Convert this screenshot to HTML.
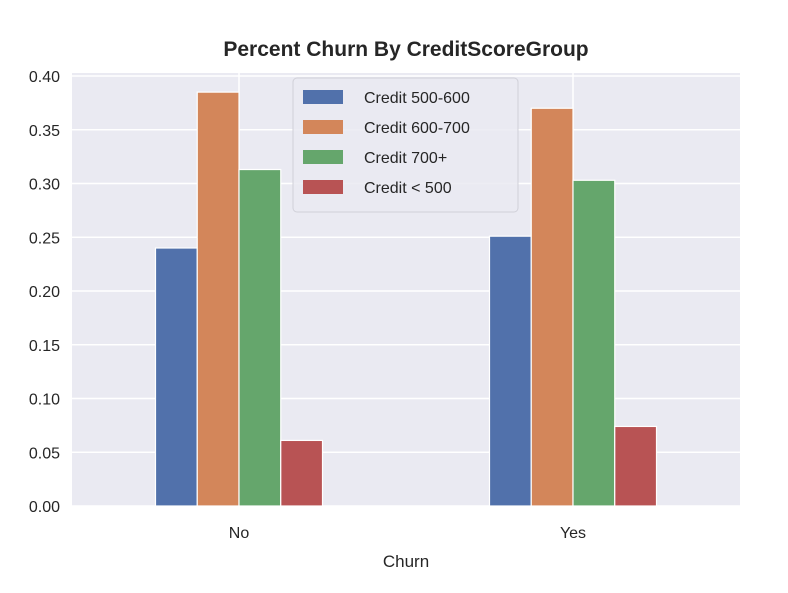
<!DOCTYPE html>
<html><head><meta charset="utf-8"><style>
body{margin:0;background:#fff;width:788px;height:588px;overflow:hidden;font-family:"Liberation Sans",sans-serif}
</style></head><body>
<svg width="788" height="588">
<text x="406" y="56" text-anchor="middle" font-size="21" font-weight="bold" fill="#262626">Percent Churn By CreditScoreGroup</text>
<rect x="72" y="73" width="668" height="433" fill="#eaeaf2"/>
<g id="grid"></g><g id="bars"></g><g id="ticks"></g>
<text x="406" y="567" text-anchor="middle" font-size="17" fill="#262626">Churn</text>
<g>
<rect x="293" y="78" width="225" height="134" rx="4" fill="#eaeaf2" stroke="#d0d0d8" fill-opacity="0.85"/>
<g id="legend"></g>
</g>
</svg>
<script>
const categories=["No","Yes"];
const seriesNames=["Credit 500-600","Credit 600-700","Credit 700+","Credit < 500"];
const s500_600=[0.240,0.251];
const s600_700=[0.385,0.370];
const s700p=[0.313,0.303];
const sLt500=[0.061,0.074];
const yTicks=["0.00","0.05","0.10","0.15","0.20","0.25","0.30","0.35","0.40"];
const series=[s500_600,s600_700,s700p,sLt500];
const colors=["#5171ab","#d3865a","#65a66c","#b85354"];
const NS="http://www.w3.org/2000/svg";
const X0=72,W=668,Y0=506,YT=76;
const y=v=>Y0-(v/0.4)*(Y0-YT);
const x=c=>X0+(c+0.5)*W/2;
function mk(t,a,p){const e=document.createElementNS(NS,t);for(const k in a)e.setAttribute(k,a[k]);document.getElementById(p).appendChild(e);return e;}
yTicks.forEach(t=>{const v=parseFloat(t);
 const l=mk('line',{x1:X0,x2:X0+W,y1:y(v),y2:y(v),stroke:'#fff','stroke-width':1.5},'grid');
 
 
 const tx=mk('text',{x:60,y:y(v)+6,'text-anchor':'end','font-size':16,fill:'#262626'},'ticks');tx.textContent=t;
 
 
});
categories.forEach((c,i)=>{
 const l=mk('line',{x1:x(i),x2:x(i),y1:73,y2:Y0,stroke:'#fff','stroke-width':1.5},'grid');
 
 
 const tx=mk('text',{x:x(i),y:538,'text-anchor':'middle','font-size':16,fill:'#262626'},'ticks');tx.textContent=c;
 
 
});
const bw=0.125*W/2;
series.forEach((s,j)=>s.forEach((v,i)=>{
 const bx=x(i)-2*bw+j*bw;
 const r=mk('rect',{x:bx,y:y(v),width:bw,height:Y0-y(v),fill:colors[j],stroke:'#fff','stroke-width':1.2},'bars');
 
 
}));
seriesNames.forEach((n,j)=>{
 const yy=90+j*30;
 const r=mk('rect',{x:303,y:yy,width:40,height:14,fill:colors[j]},'legend');
 
 
 const t=mk('text',{x:364,y:yy+13,'font-size':16,fill:'#262626'},'legend');t.textContent=n;
 
 
});
</script>
</body></html>
